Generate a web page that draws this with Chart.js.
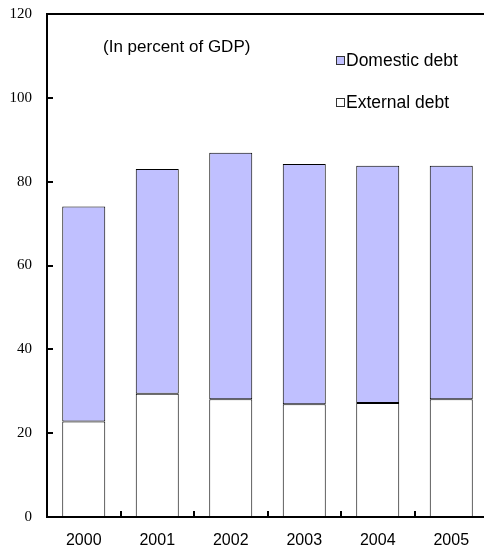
<!DOCTYPE html>
<html>
<head>
<meta charset="utf-8">
<script src="https://cdn.jsdelivr.net/npm/chart.js@4"></script>
<style>
    html, body { margin: 0; padding: 0; background: #fff; overflow: hidden; }
    #wrap { width: 484px; height: 552px; overflow: hidden; }
    #box { width: 488px; height: 552px; }
</style>
</head>
<body>
<div id="wrap"><div id="box"><canvas id="debtChart"></canvas></div></div>
<script>
const years = ["2000", "2001", "2002", "2003", "2004", "2005"];
const externalDebt = [22.8, 29.4, 28.1, 26.9, 27.2, 28.1];
const domesticDebt = [51.3, 53.6, 58.8, 57.3, 56.6, 55.7];
const yTicks = [0, 20, 40, 60, 80, 100, 120];

const domesticColor = "#c0c0ff";
const legendItems = [
    { label: "Domestic debt", color: domesticColor },
    { label: "External debt", color: "#ffffff" }
];

// inward tick marks, top frame line, note and legend
const extras = {
    id: "extras",
    afterDraw(chart) {
        const ctx = chart.ctx;
        const area = chart.chartArea;
        const x = chart.scales.x;
        const y = chart.scales.y;
        ctx.save();
        ctx.strokeStyle = "#000";
        ctx.lineWidth = 2;
        ctx.beginPath();
        ctx.moveTo(area.left - 1, area.top);
        ctx.lineTo(area.right, area.top);
        ctx.stroke();

        yTicks.forEach(v => {
            const py = Math.round(y.getPixelForValue(v));
            ctx.beginPath();
            ctx.moveTo(area.left, py);
            ctx.lineTo(area.left + 6, py);
            ctx.stroke();
        });
        for (let i = 1; i <= years.length; i++) {
            const px = Math.round(x.getPixelForValue(i - 0.5));
            ctx.beginPath();
            ctx.moveTo(px, area.bottom);
            ctx.lineTo(px, area.bottom - 6);
            ctx.stroke();
        }

        ctx.fillStyle = "#000";
        ctx.font = "17px 'Liberation Sans', Arial, sans-serif";
        ctx.textBaseline = "middle";
        ctx.textAlign = "left";
        ctx.fillText("(In percent of GDP)", area.left + 56, area.top + 33);

        legendItems.forEach((item, i) => {
            const ly = area.top + 46 + i * 42;
            const lx = area.left + 289;
            ctx.fillStyle = item.color;
            ctx.fillRect(lx, ly - 4, 8, 8);
            ctx.lineWidth = 1;
            ctx.strokeStyle = "#333";
            ctx.strokeRect(lx + 0.5, ly - 3.5, 8, 8);
            ctx.fillStyle = "#000";
            ctx.font = "17.5px 'Liberation Sans', Arial, sans-serif";
            ctx.fillText(item.label, lx + 10, ly + 1);
        });
        ctx.restore();
    }
};

new Chart(document.getElementById("debtChart"), {
    type: "bar",
    data: {
        labels: years,
        datasets: [
            {
                label: "External debt",
                data: externalDebt,
                backgroundColor: "#ffffff",
                borderColor: "#000",
                borderWidth: 1,
                borderSkipped: false,
                barPercentage: 0.585,
                categoryPercentage: 1
            },
            {
                label: "Domestic debt",
                data: domesticDebt,
                backgroundColor: domesticColor,
                borderColor: "#000",
                borderWidth: 1,
                borderSkipped: false,
                barPercentage: 0.585,
                categoryPercentage: 1
            }
        ]
    },
    options: {
        responsive: true,
        maintainAspectRatio: false,
        animation: false,
        layout: { padding: { top: 14, right: 0, left: 0, bottom: 0 } },
        plugins: {
            legend: { display: false },
            tooltip: { enabled: false }
        },
        scales: {
            x: {
                stacked: true,
                grid: { display: false, drawTicks: false },
                border: { display: true, color: "#000", width: 2 },
                ticks: {
                    color: "#000",
                    padding: 14,
                    font: { family: "'Liberation Sans', Arial, sans-serif", size: 16 }
                },
                afterFit: scale => {
                    scale.height = 35;
                    scale.paddingLeft = 0;
                    scale.paddingRight = 0;
                }
            },
            y: {
                stacked: true,
                min: 0,
                max: 120,
                grid: { display: false, drawTicks: false },
                border: { display: true, color: "#000", width: 2 },
                afterBuildTicks: scale => { scale.ticks = yTicks.map(v => ({ value: v })); },
                ticks: {
                    color: "#000",
                    padding: 15,
                    font: { family: "'Liberation Serif', 'Times New Roman', serif", size: 15 }
                },
                afterFit: scale => {
                    scale.width = 47;
                    scale.paddingTop = 0;
                    scale.paddingBottom = 0;
                }
            }
        }
    },
    plugins: [extras]
});
</script>
</body>
</html>
